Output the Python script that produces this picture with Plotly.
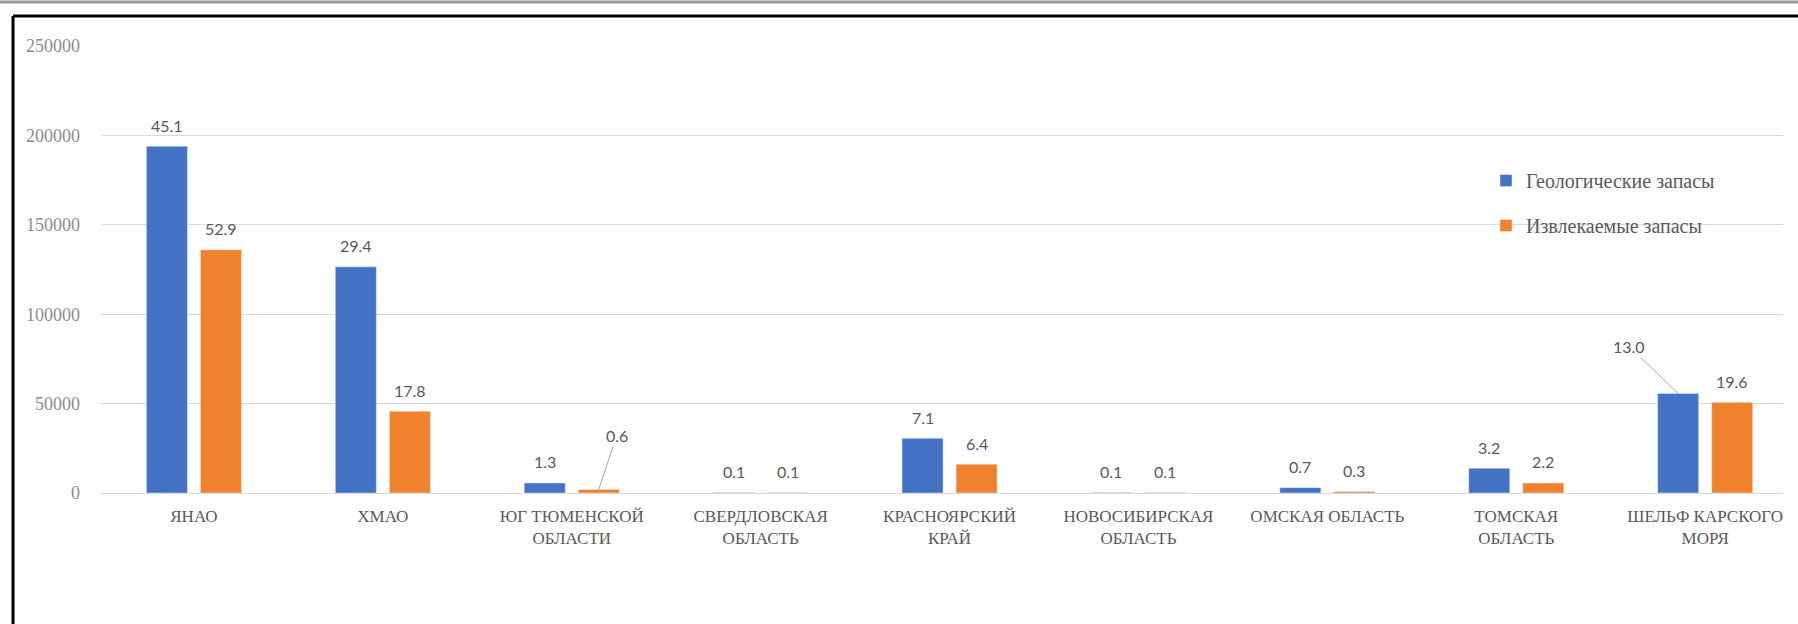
import plotly.graph_objects as go

categories = ["ЯНАО", "ХМАО", "ЮГ ТЮМЕНСКОЙ<br>ОБЛАСТИ", "СВЕРДЛОВСКАЯ<br>ОБЛАСТЬ",
              "КРАСНОЯРСКИЙ<br>КРАЙ", "НОВОСИБИРСКАЯ<br>ОБЛАСТЬ", "ОМСКАЯ ОБЛАСТЬ",
              "ТОМСКАЯ<br>ОБЛАСТЬ", "ШЕЛЬФ КАРСКОГО<br>МОРЯ"]
geo_values = [194000, 126500, 5600, 300, 30600, 300, 3000, 13900, 55700]
rec_values = [136000, 45700, 2000, 300, 16100, 300, 800, 5600, 50700]
geo_labels = ["45.1", "29.4", "1.3", "0.1", "7.1", "0.1", "0.7", "3.2", "13.0"]
rec_labels = ["52.9", "17.8", "0.6", "0.1", "6.4", "0.1", "0.3", "2.2", "19.6"]
series_names = ["Геологические запасы", "Извлекаемые запасы"]
y_ticks = [0, 50000, 100000, 150000, 200000, 250000]

BLUE = "#4472C4"
ORANGE = "#F0822D"
LABEL_COLOR = "#595959"
LABEL_FONT = dict(family="Lato", size=16, color=LABEL_COLOR)
SERIF = "Liberation Serif"

# plot area in pixels
L, R, T, B = 101, 1783, 46, 493
W, H = R - L, B - T

fig = go.Figure()
fig.add_trace(go.Bar(x=categories, y=geo_values, name=series_names[0],
                     marker_color=BLUE, legendgroup="g1", hoverinfo="skip"))
fig.add_trace(go.Bar(x=categories, y=rec_values, name=series_names[1],
                     marker_color=ORANGE, legendgroup="g2", hoverinfo="skip"))

# leader-line label offsets (styling): (series index, category index) -> (ax, ay)
leaders = {(1, 2): (18, -54), (0, 8): (-49, -47)}

annotations = []
for s, (vals, labs, xs) in enumerate([(geo_values, geo_labels, -27), (rec_values, rec_labels, 27)]):
    for i, (cat, v, t) in enumerate(zip(categories, vals, labs)):
        if (s, i) in leaders:
            ax, ay = leaders[(s, i)]
            annotations.append(dict(x=cat, y=v, xref="x", yref="y", text=t, xshift=xs,
                                    showarrow=True, arrowhead=0, arrowwidth=1,
                                    arrowcolor="#a6a6a6", ax=ax, ay=ay, standoff=0,
                                    font=LABEL_FONT))
        else:
            annotations.append(dict(x=cat, y=v, xref="x", yref="y", text=t, xshift=xs,
                                    yshift=21, yanchor="middle", showarrow=False,
                                    font=LABEL_FONT))

fig.update_layout(
    width=1798, height=624,
    margin=dict(l=L, r=1798 - R, t=T, b=624 - B, pad=0),
    paper_bgcolor="white", plot_bgcolor="white",
    barmode="group", bargap=0.428, bargroupgap=0.24,
    showlegend=True,
    legend=dict(x=(1486 - L) / W, y=(B - 161) / H, xanchor="left", yanchor="top",
                bgcolor="rgba(0,0,0,0)", font=dict(family=SERIF, size=20, color=LABEL_COLOR),
                tracegroupgap=16, itemwidth=30),
    annotations=annotations,
    hovermode=False,
)
fig.update_xaxes(type="category", range=[-0.492, 8.412], showgrid=False, showline=False,
                 ticks="", tickfont=dict(family=SERIF, size=17, color=LABEL_COLOR),
                 ticklabelstandoff=11, tickangle=0)
fig.update_yaxes(range=[0, 250000], tickvals=y_ticks, ticktext=[str(v) for v in y_ticks],
                 showgrid=True, gridcolor="#d9d9d9", gridwidth=1, zeroline=True,
                 zerolinecolor="#d9d9d9", zerolinewidth=1, showline=False,
                 tickfont=dict(family=SERIF, size=18, color="#8c8c8c"), ticklabelstandoff=20)

# outer frame and top border line
fx = (13 - L) / W
fy = (B - 16) / H
fig.add_shape(type="line", xref="paper", yref="paper", x0=fx, x1=fx,
              y0=-0.5, y1=fy, line=dict(color="black", width=3))
fig.add_shape(type="line", xref="paper", yref="paper", x0=fx, x1=1.1,
              y0=fy, y1=fy, line=dict(color="black", width=3))
fig.add_shape(type="line", xref="paper", yref="paper", x0=-0.1, x1=1.1,
              y0=(B - 2) / H, y1=(B - 2) / H, line=dict(color="#9a9a9a", width=3))

fig.write_html("out.html", config={"displayModeBar": False},
               post_script="document.body.style.margin='0';document.body.style.padding='0';")
